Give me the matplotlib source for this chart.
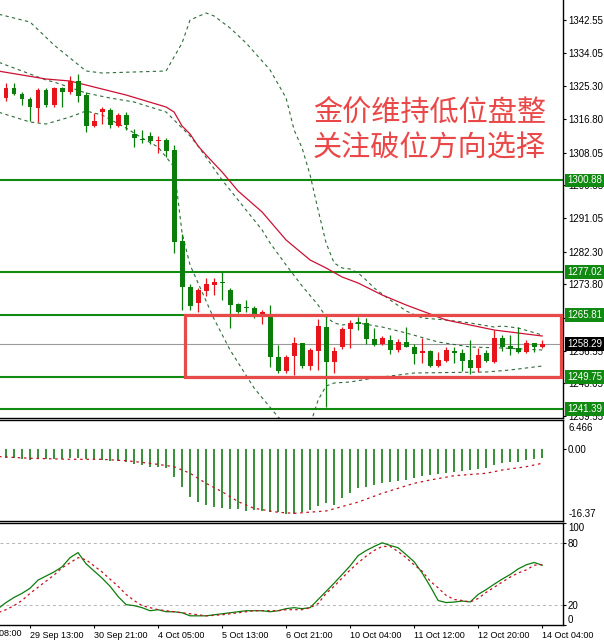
import numpy as np
import matplotlib
matplotlib.use("Agg")
import matplotlib.pyplot as plt
from matplotlib.patches import Rectangle

# ---- candles (H4 gold), index -1 is the partly hidden bar at the left edge
bar_idx = np.arange(-1, 68)
opens = [1323.80, 1322.27, 1324.87, 1323.31, 1322.01, 1319.67, 1324.35, 1320.45, 1324.87, 1323.83,
         1326.69, 1323.05, 1314.99, 1318.63, 1319.15, 1314.99, 1317.85, 1312.91, 1311.61, 1312.39,
         1311.09, 1311.35, 1308.75, 1285.09, 1273.13, 1268.97, 1272.09, 1273.65, 1274.43, 1272.35,
         1268.71, 1267.93, 1267.67, 1266.11, 1266.11, 1254.93, 1251.29, 1255.19, 1258.57, 1252.59,
         1256.49, 1262.73, 1253.63, 1257.53, 1262.21, 1264.03, 1263.77, 1259.61, 1258.31, 1259.35,
         1256.75, 1258.83, 1257.53, 1255.97, 1256.49, 1252.59, 1253.89, 1256.49, 1255.97, 1254.15,
         1252.07, 1255.97, 1253.63, 1259.87, 1257.79, 1257.27, 1256.23, 1258.57, 1257.53]
highs = [1324.60, 1326.17, 1326.17, 1323.83, 1322.53, 1324.87, 1324.87, 1325.13, 1325.13, 1327.99,
         1328.51, 1323.83, 1318.37, 1319.93, 1319.67, 1318.37, 1318.63, 1314.21, 1313.95, 1313.43,
         1312.39, 1311.87, 1310.05, 1286.91, 1273.91, 1272.87, 1275.47, 1275.47, 1277.03, 1272.87,
         1268.97, 1269.75, 1268.19, 1267.15, 1268.45, 1258.05, 1255.45, 1260.13, 1258.57, 1257.27,
         1264.81, 1265.85, 1257.53, 1262.73, 1264.55, 1265.33, 1265.07, 1262.47, 1260.39, 1260.65,
         1259.61, 1262.73, 1258.31, 1259.87, 1256.75, 1256.23, 1257.53, 1257.53, 1257.01, 1259.35,
         1257.27, 1256.75, 1261.95, 1260.65, 1260.65, 1262.73, 1259.35, 1258.57, 1259.35]
lows = [1321.75, 1321.49, 1323.05, 1320.45, 1316.29, 1316.03, 1319.93, 1319.93, 1319.93, 1323.31,
        1321.23, 1313.43, 1314.73, 1315.51, 1314.47, 1314.73, 1313.95, 1309.53, 1310.57, 1310.31,
        1307.97, 1306.93, 1281.97, 1267.15, 1267.15, 1266.63, 1270.79, 1271.05, 1269.75, 1262.47,
        1266.37, 1266.63, 1265.07, 1263.51, 1252.33, 1250.77, 1250.77, 1250.25, 1252.07, 1251.55,
        1251.55, 1241.93, 1250.77, 1257.01, 1257.27, 1261.95, 1258.31, 1257.79, 1258.05, 1255.71,
        1256.23, 1257.53, 1253.11, 1253.37, 1252.33, 1252.40, 1253.63, 1253.37, 1251.29, 1250.51,
        1251.03, 1253.63, 1253.37, 1256.49, 1255.45, 1255.97, 1255.97, 1256.23, 1257.27]
closes = [1322.30, 1324.87, 1323.31, 1322.01, 1319.93, 1324.35, 1320.45, 1324.87, 1323.83, 1326.69,
          1322.79, 1314.99, 1316.29, 1319.41, 1315.25, 1317.85, 1315.25, 1311.87, 1311.35, 1311.09,
          1311.35, 1308.49, 1284.83, 1273.13, 1268.19, 1272.35, 1273.91, 1274.43, 1274.17, 1268.45,
          1266.63, 1267.67, 1266.11, 1266.63, 1254.93, 1251.29, 1254.93, 1258.57, 1252.59, 1256.75,
          1263.01, 1253.63, 1256.49, 1262.21, 1263.77, 1263.51, 1259.61, 1258.05, 1259.87, 1256.75,
          1258.83, 1257.60, 1255.71, 1256.49, 1252.59, 1254.15, 1256.75, 1255.97, 1253.89, 1252.07,
          1255.45, 1253.89, 1259.87, 1257.53, 1256.97, 1256.23, 1258.57, 1257.53, 1258.29]

# ---- Bollinger bands and moving average, read at bar indices
bb_up_idx = [-1, 3, 6, 10, 12, 20, 22, 23, 25, 26, 28, 30, 33, 35, 36, 37, 38, 39, 40, 41, 42, 43,
             44, 45, 46, 47, 48, 50, 52, 55, 58, 61, 62, 64, 67]
bb_up = [1344.10, 1342.03, 1336.05, 1329.29, 1328.77, 1329.29, 1336.57, 1342.55, 1344.37, 1343.59,
         1340.47, 1336.57, 1329.55, 1322.27, 1313.95, 1309.27, 1302.25, 1293.15, 1284.57, 1279.37,
         1278.07, 1277.81, 1276.77, 1274.95, 1272.87, 1271.31, 1269.75, 1266.89, 1265.07, 1264.55,
         1263.77, 1262.73, 1262.99, 1262.47, 1260.65]
bb_mid_idx = [-1, 5, 6, 10, 13, 16, 20, 21, 23, 24, 27, 32, 33, 35, 37, 39, 40, 41, 42, 44, 47, 50,
              54, 58, 62, 67]
bb_mid = [1331.63, 1326.95, 1326.43, 1323.57, 1322.27, 1321.23, 1318.63, 1316.55, 1312.39, 1309.79,
          1300.95, 1287.95, 1284.57, 1278.85, 1273.39, 1268.45, 1265.33, 1263.77, 1263.25, 1263.77,
          1262.73, 1261.17, 1258.83, 1257.53, 1257.27, 1256.75]
bb_low_idx = [-1, 3, 5, 8, 10, 12, 15, 17, 19, 20, 21, 22, 23, 26, 28, 31, 34, 36, 38, 39, 40, 41,
              43, 46, 49, 51, 60, 63, 67]
bb_low = [1318.63, 1316.03, 1315.51, 1317.33, 1318.89, 1317.85, 1314.47, 1311.87, 1309.53, 1306.93,
          1304.33, 1287.17, 1278.85, 1264.81, 1256.75, 1246.87, 1239.33, 1235.95, 1237.25, 1243.75,
          1247.39, 1248.17, 1248.43, 1249.47, 1250.25, 1250.77, 1251.03, 1251.55, 1252.59]
ma_idx = [-1, 5, 8, 9, 15, 20, 21, 22, 23, 24, 25, 27, 29, 32, 35, 38, 40, 42, 44, 47, 50, 52, 55,
          61, 67]
ma = [1329.29, 1327.21, 1326.69, 1326.17, 1323.05, 1319.93, 1318.63, 1314.99, 1312.91, 1309.79,
      1307.45, 1303.03, 1298.09, 1292.63, 1285.35, 1280.15, 1278.07, 1275.73, 1274.17, 1271.05,
      1268.45, 1266.89, 1264.55, 1261.95, 1260.39]

levels = [1300.88, 1277.02, 1265.81, 1249.75, 1241.39]
last_price = 1258.29
price_ticks = [1342.55, 1334.05, 1325.30, 1316.80, 1308.05, 1299.55, 1291.05, 1282.30, 1273.80,
               1265.05, 1256.55, 1248.05, 1239.55]

# ---- MACD (bars from index 0) and its signal line
macd_idx = np.arange(0, 68)
macd = [-2.19, -2.19, -2.42, -2.58, -2.42, -2.42, -2.42, -2.42, -2.19, -2.19,
        -2.42, -2.42, -2.58, -2.74, -2.74, -2.96, -3.55, -3.71, -4.09, -4.09,
        -4.45, -6.35, -8.61, -10.87, -12.00, -12.75, -13.13, -13.36, -13.72, -13.72,
        -14.04, -13.88, -14.04, -14.27, -14.40, -14.85, -14.85, -14.27, -13.88, -12.98,
        -12.30, -12.75, -11.17, -10.04, -8.91, -8.68, -8.23, -7.77, -7.55, -7.33,
        -7.10, -6.65, -6.19, -5.97, -5.74, -5.52, -5.29, -5.07, -4.84, -4.61,
        -4.38, -3.71, -3.26, -3.03, -2.96, -2.58, -2.35, -2.06]
sig_idx = [-1, 3, 8, 12, 15, 18, 21, 23, 25, 27, 29, 31, 34, 36, 37, 40, 42, 44, 47, 49, 51, 53,
           56, 60, 62, 65, 67]
macd_sig = [-1.80, -2.19, -2.42, -2.42, -2.74, -3.32, -4.09, -5.58, -7.85, -9.74, -12.00, -13.50,
            -14.40, -14.63, -14.50, -14.10, -13.10, -12.10, -10.10, -8.98, -7.85, -7.10, -6.13,
            -5.58, -4.84, -4.09, -3.32]
macd_max, macd_min = 6.466, -16.37

# ---- Stochastic %K / %D
stoch_k = [16, 22, 27, 31, 36, 44, 48, 52, 57, 66, 71, 60, 53, 46, 38, 28, 20, 19, 17, 14,
           15, 13, 13, 12, 9, 9, 9, 10, 11, 12, 13, 14, 14, 14, 13, 14, 16, 17,
           16, 17, 25, 33, 41, 49.5, 58, 68, 73, 77, 80.6, 78, 75.7, 69, 62, 51, 38, 24,
           22, 22.5, 23.5, 22.6, 30, 34.7, 40, 45, 49.5, 55, 59, 61.3, 58.6]
stoch_d = [12, 15, 19, 24, 31, 37, 43, 49, 56, 61, 66, 64, 58, 52, 45, 38, 30, 24, 19, 17,
           15, 14, 13, 12, 11, 10, 9, 9.5, 10, 11, 12, 13, 14, 14, 14, 14, 15, 15, 15, 17,
           21, 31, 38, 46, 54, 61, 67.5, 73, 77, 77, 72, 66, 59, 52.7, 43, 36.4, 29, 25, 24,
           22.6, 26, 32, 37, 42, 47, 51, 54, 58.6, 59.3]

time_tick_idx = [3, 11, 19, 27, 35, 43, 51, 59, 67]
time_labels = ["29 Sep 13:00", "30 Sep 21:00", "4 Oct 05:00", "5 Oct 13:00", "6 Oct 21:00",
               "10 Oct 04:00", "11 Oct 12:00", "12 Oct 20:00", "14 Oct 04:00"]

UP = "#e8141c"
DOWN = "#0b7d0b"
LEVEL = "#118a11"
BAND = "#2f6b3a"
LABEL_FONT = "Liberation Sans"

plt.rcParams["font.family"] = [LABEL_FONT, "DejaVu Sans"]

fig = plt.figure(figsize=(6.04, 6.43), dpi=100)
fig.patch.set_facecolor("white")
ax = fig.add_axes([0, 1 - 418 / 643, 563 / 604, 418 / 643])
ax_m = fig.add_axes([0, 1 - 521 / 643, 563 / 604, 101 / 643])
ax_s = fig.add_axes([0, 1 - 625 / 643, 563 / 604, 102 / 643])

xlim = (-0.75, 69.6)
for a in (ax, ax_m, ax_s):
    a.set_xlim(*xlim)
    a.spines["left"].set_visible(False)
    for s in ("right", "bottom", "top"):
        a.spines[s].set_color("black")
        a.spines[s].set_linewidth(1.0)
    a.yaxis.tick_right()
    a.tick_params(axis="y", direction="out", length=2, pad=1.5, labelsize=7, colors="black")
    a.tick_params(axis="x", bottom=False, labelbottom=False)
ax.spines["top"].set_visible(False)

# ---- main price panel
ax.set_ylim(1239.07, 1347.75)
ax.set_yticks(price_ticks)
ax.set_yticklabels([f"{p:.2f}" for p in price_ticks])

for lv in levels:
    ax.axhline(lv, color=LEVEL, lw=1.5, zorder=2)
ax.axhline(last_price, color="#9a9a9a", lw=0.8, zorder=1.5)

ax.plot(bb_up_idx, bb_up, color=BAND, lw=0.8, dashes=(3, 3), zorder=2.5)
ax.plot(bb_mid_idx, bb_mid, color=BAND, lw=0.8, dashes=(3, 3), zorder=2.5)
ax.plot(bb_low_idx, bb_low, color=BAND, lw=0.8, dashes=(3, 3), zorder=2.5)
ax.plot(ma_idx, ma, color="#cc1133", lw=0.9, zorder=2.6)

o = np.array(opens)
c = np.array(closes)
colors = [UP if cc >= oo else DOWN for oo, cc in zip(o, c)]
ax.vlines(bar_idx, lows, highs, colors=colors, lw=0.9, zorder=3)
body = np.maximum(np.abs(c - o), 0.3)
ax.bar(bar_idx, body, bottom=np.minimum(o, c), width=0.62, color=colors, lw=0, zorder=3.1)

ax.add_patch(Rectangle((22.35, levels[3]), 69.3 - 22.35, levels[2] - levels[3],
                       fill=False, edgecolor="#e84a4a", lw=2.3, zorder=4))

ax.text(313 / 563, 1 - 113 / 418, "金价维持低位盘整", transform=ax.transAxes,
        family=["Noto Sans CJK SC"], fontsize=21, fontweight="light", color="#ea4848",
        ha="left", va="center")
ax.text(313 / 563, 1 - 149 / 418, "关注破位方向选择", transform=ax.transAxes,
        family=["Noto Sans CJK SC"], fontsize=21, fontweight="light", color="#ea4848",
        ha="left", va="center")

ytr = ax.get_yaxis_transform()
for lv in levels:
    ax.text(1.007, lv, f"{lv:.2f}", transform=ytr, fontsize=7, color="white", ha="left",
            va="center", clip_on=False, zorder=10,
            bbox=dict(boxstyle="square,pad=0.18", fc=LEVEL, ec="none"))
ax.text(1.007, last_price, f"{last_price:.2f}", transform=ytr, fontsize=7, color="white",
        ha="left", va="center", clip_on=False, zorder=10,
        bbox=dict(boxstyle="square,pad=0.18", fc="black", ec="none"))

# ---- MACD panel
ax_m.set_ylim(macd_min, macd_max)
ax_m.vlines(macd_idx, 0, macd, colors="#157a15", lw=1.2)
ax_m.plot(sig_idx, macd_sig, color="#c41020", lw=0.9, dashes=(2, 3))
ax_m.set_yticks([0])
ax_m.set_yticklabels(["0.00"])
# MT4 prints the window max/min just inside the panel edges
ax_m.annotate(f"{macd_max:.3f}", xy=(1, 1), xycoords="axes fraction", xytext=(4, -2.5),
              textcoords="offset points", fontsize=7, ha="left", va="top", annotation_clip=False)
ax_m.annotate(f"{macd_min:.2f}", xy=(1, 0), xycoords="axes fraction", xytext=(4, 1.5),
              textcoords="offset points", fontsize=7, ha="left", va="bottom", annotation_clip=False)

# ---- Stochastic panel
ax_s.set_ylim(0, 100)
for g in (80, 20):
    ax_s.axhline(g, color="#b4b4b4", lw=0.7, dashes=(3, 3))
ax_s.plot(bar_idx, stoch_k, color="#0b7d0b", lw=0.9)
ax_s.plot(bar_idx, stoch_d, color="#c41020", lw=0.9, dashes=(2, 2.5))
ax_s.set_yticks([100, 80, 20, 0])
ax_s.set_yticklabels(["100", "80", "20", "0"])
slabels = ax_s.get_yticklabels()
slabels[0].set_va("top")
slabels[3].set_va("bottom")

ax_s.tick_params(axis="x", bottom=True, labelbottom=True, direction="out", length=2.5,
                 pad=2, labelsize=6.5, colors="black")
ax_s.set_xticks(time_tick_idx)
ax_s.set_xticklabels(time_labels, ha="left")
ax_s.text(-4.7, -0.04, "28 Sep 08:00", transform=ax_s.get_xaxis_transform(), fontsize=6.5,
          ha="left", va="top", clip_on=False)

fig.savefig("out.png", dpi=100, facecolor="white")
